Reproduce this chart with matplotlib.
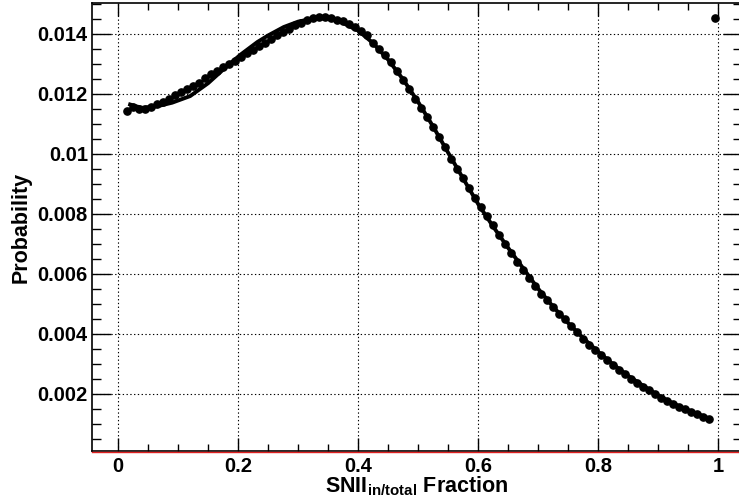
import matplotlib
matplotlib.use("Agg")
import matplotlib.pyplot as plt
from matplotlib.ticker import MultipleLocator, FuncFormatter

plt.rcParams['font.family'] = ['Liberation Sans', 'DejaVu Sans']
plt.rcParams['font.weight'] = 'bold'

# histogram points (bin centres, probability)
frac = [0.015, 0.025, 0.035, 0.045, 0.055, 0.065, 0.075, 0.085, 0.095, 0.105,
        0.115, 0.125, 0.135, 0.145, 0.155, 0.165, 0.175, 0.185, 0.195, 0.205,
        0.215, 0.225, 0.235, 0.245, 0.255, 0.265, 0.275, 0.285, 0.295, 0.305,
        0.315, 0.325, 0.335, 0.345, 0.355, 0.365, 0.375, 0.385, 0.395, 0.405,
        0.415, 0.425, 0.435, 0.445, 0.455, 0.465, 0.475, 0.485, 0.495, 0.505,
        0.515, 0.525, 0.535, 0.545, 0.555, 0.565, 0.575, 0.585, 0.595, 0.605,
        0.615, 0.625, 0.635, 0.645, 0.655, 0.665, 0.675, 0.685, 0.695, 0.705,
        0.715, 0.725, 0.735, 0.745, 0.755, 0.765, 0.775, 0.785, 0.795, 0.805,
        0.815, 0.825, 0.835, 0.845, 0.855, 0.865, 0.875, 0.885, 0.895, 0.905,
        0.915, 0.925, 0.935, 0.945, 0.955, 0.965, 0.975, 0.985, 0.995]
prob = [0.01142, 0.01155, 0.01148, 0.01150, 0.01157, 0.01164, 0.01172, 0.01182, 0.01195, 0.01204,
        0.01216, 0.01227, 0.01237, 0.01252, 0.01264, 0.01277, 0.01288, 0.01298, 0.01309, 0.01322,
        0.01334, 0.01347, 0.01358, 0.01370, 0.01383, 0.01395, 0.01405, 0.01417, 0.01428, 0.01437,
        0.01446, 0.01452, 0.01455, 0.01455, 0.01453, 0.01447, 0.01442, 0.01431, 0.01422, 0.01409,
        0.01394, 0.01370, 0.01350, 0.01330, 0.01304, 0.01275, 0.01244, 0.01214, 0.01183, 0.01152,
        0.01122, 0.01089, 0.01055, 0.01022, 0.00983, 0.00950, 0.00920, 0.00887, 0.00853, 0.00822,
        0.00791, 0.00761, 0.00728, 0.00700, 0.00670, 0.00639, 0.00614, 0.00586, 0.00558, 0.00534,
        0.00513, 0.00489, 0.00467, 0.00448, 0.00427, 0.00405, 0.00383, 0.00364, 0.00348, 0.00330,
        0.00312, 0.00297, 0.00281, 0.00265, 0.00251, 0.00238, 0.00224, 0.00212, 0.00199, 0.00185,
        0.00178, 0.00167, 0.00158, 0.00150, 0.00141, 0.00133, 0.00124, 0.00117, 0.01452]

# fitted curve
fit_x = [0.02, 0.03, 0.04, 0.065, 0.09, 0.12, 0.15, 0.176, 0.204, 0.232, 0.25,
         0.276, 0.30, 0.32, 0.335, 0.35, 0.37, 0.40, 0.425, 0.45, 0.475, 0.50,
         0.525, 0.55, 0.575, 0.60, 0.625, 0.65, 0.675, 0.70, 0.725, 0.75, 0.775,
         0.80, 0.825, 0.85, 0.875, 0.90, 0.925, 0.95, 0.985]
fit_y = [0.01164, 0.01158, 0.01153, 0.01158, 0.01170, 0.01192, 0.01235, 0.01282, 0.01330,
         0.01372, 0.01394, 0.01422, 0.01440, 0.01448, 0.01451, 0.01450, 0.01440, 0.01410,
         0.01368, 0.01313, 0.01247, 0.01172, 0.01090, 0.01003, 0.00917, 0.00832, 0.00757,
         0.00686, 0.00618, 0.00550, 0.00490, 0.00436, 0.00386, 0.00340, 0.00298, 0.00260,
         0.00227, 0.00195, 0.00168, 0.00146, 0.00118]

xticks = [0, 0.2, 0.4, 0.6, 0.8, 1.0]
yticks = [0.002, 0.004, 0.006, 0.008, 0.010, 0.012, 0.014]

fig = plt.figure(figsize=(7.39, 5.0), dpi=100)
ax = fig.add_axes([0.1245, 0.098, 0.880, 0.896])

ax.plot(fit_x, fit_y, color='black', lw=2.8, zorder=3)
ax.plot(frac, prob, 'o', color='black', ms=5.2, mec='black', zorder=4)

ax.set_xlim(-0.0435, 1.04)
ax.set_ylim(0.0001, 0.01502)
# thin red line just under the frame
ax.axhline(0.0001 - 0.00004, color='#e02020', lw=1.0, zorder=5, clip_on=False)

ax.set_xticks(xticks)
ax.set_yticks(yticks)
ax.xaxis.set_minor_locator(MultipleLocator(0.05))
ax.yaxis.set_minor_locator(MultipleLocator(0.0005))
fmt = FuncFormatter(lambda v, p: '%g' % round(v, 6))
ax.xaxis.set_major_formatter(fmt)
ax.yaxis.set_major_formatter(fmt)

ax.tick_params(axis='both', which='both', direction='in', top=True, right=True,
               labelsize=14.5, width=1, color='black')
ax.tick_params(axis='x', which='major', length=9.4, pad=4)
ax.tick_params(axis='x', which='minor', length=4.7)
ax.tick_params(axis='y', which='major', length=13.5, pad=3)
ax.tick_params(axis='y', which='minor', length=6.8)
for lab in ax.get_xticklabels() + ax.get_yticklabels():
    lab.set_fontweight('bold')

ax.grid(True, which='major', color='black', linestyle=(0, (1.2, 2.2)), lw=0.8)
for s in ax.spines.values():
    s.set_linewidth(1.2)

ax.set_xlabel(r'SNII$_{\mathregular{in/total}}$ Fraction', fontsize=15.5,
              fontweight='bold', labelpad=-0.5)
ax.set_ylabel('Probability', fontsize=15.5, fontweight='bold', labelpad=4)

fig.savefig('out.png', dpi=100)
